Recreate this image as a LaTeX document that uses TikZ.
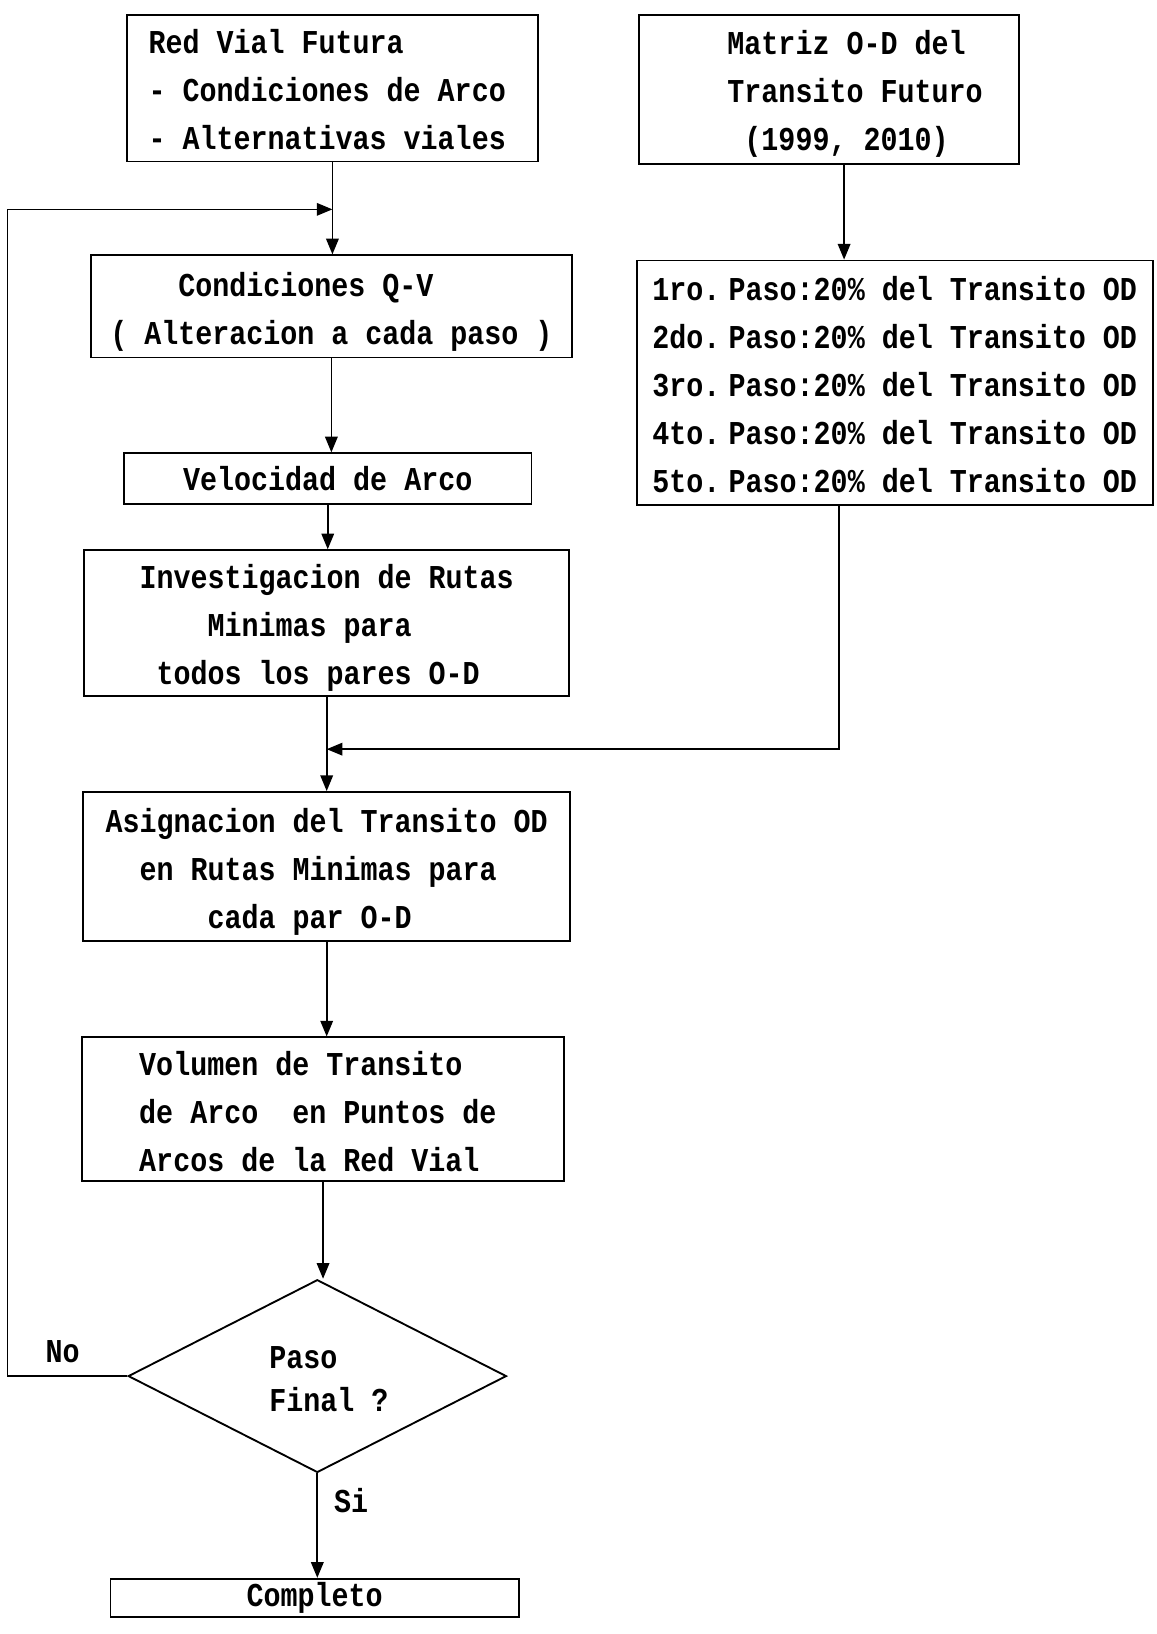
\documentclass[tikz,border=0pt]{standalone}
\usepackage{fontspec}
\newfontfamily\typ{Liberation Mono}[FakeStretch=0.85]
\usetikzlibrary{arrows.meta,shapes.geometric}
\tikzset{
  box/.style={draw, line width=1.8pt, inner sep=0pt, rectangle},
  arr/.style={line width=1.6pt, -{Triangle[length=15pt,width=12pt]}},
  every node/.style={font=\typ\bfseries\fontsize{32}{46}\selectfont},
}
\newcommand{\tl}[1]{\raisebox{-4pt}[\height][\depth]{\begin{tabular}{@{}l@{}}#1\end{tabular}}}
\newcommand{\pd}{.\hspace*{8pt}}
\begin{document}
\begin{tikzpicture}[x=1pt,y=-1pt]
\useasboundingbox (0,0) rectangle (1110,1568);

\node[box, minimum width=394pt, minimum height=141pt] (b1) at (319,84.5)
  {\hspace*{-10pt}\tl{Red Vial Futura\\- Condiciones de Arco\\- Alternativas viales}};
\node[box, minimum width=365pt, minimum height=143pt] (b2) at (795.5,85.5)
  {\hspace*{50pt}\tl{Matriz O-D del\\Transito Futuro\\~(1999, 2010)}};
\node[box, minimum width=462pt, minimum height=98pt] (b3) at (318,294)
  {\tl{~~~~Condiciones Q-V\\( Alteracion a cada paso )}};
\node[box, minimum width=391pt, minimum height=49pt] (b4) at (314.5,459.5)
  {Velocidad de Arco};
\node[box, minimum width=465pt, minimum height=140pt] (b5) at (313.5,598)
  {\tl{Investigacion de Rutas\\~~~~Minimas para\\~todos los pares O-D}};
\node[box, minimum width=495pt, minimum height=235pt] (b6) at (858.5,367.5)
  {\tl{1ro\pd Paso:20\% del Transito OD\\2do\pd Paso:20\% del Transito OD\\3ro\pd Paso:20\% del Transito OD\\4to\pd Paso:20\% del Transito OD\\5to\pd Paso:20\% del Transito OD}};
\node[box, minimum width=467pt, minimum height=143pt] (b7) at (313.5,831.5)
  {\tl{Asignacion del Transito OD\\~~en Rutas Minimas para\\~~~~~~cada par O-D}};
\node[box, minimum width=462pt, minimum height=137pt] (b8) at (310,1064.5)
  {\hspace*{-10pt}\tl{Volumen de Transito\\de Arco~~en Puntos de\\Arcos de la Red Vial}};
\node[draw, line width=1.8pt, diamond, aspect=2, inner sep=0pt,
      minimum width=363pt, minimum height=185pt] (d) at (304.5,1320.5)
  {\hspace*{22pt}\tl{Paso\\[-5pt]Final ?}};
\node[box, minimum width=392pt, minimum height=37pt] (b9) at (302,1533.5)
  {Completo};

\path (b1.south) ++(0,45) coordinate (j1);
\path (b5.south) ++(0,50) coordinate (j2);

\draw[arr] (b1.south) -- (b1.south |- b3.north);
\draw[arr] (b3.south) -- (b3.south |- b4.north);
\draw[arr] (b4.south) -- (b4.south |- b5.north);
\draw[arr] (b5.south) -- (b5.south |- b7.north);
\draw[arr] (b7.south) -- (b7.south |- b8.north);
\draw[arr] (b8.south) -- (b8.south |- d.north);
\draw[arr] (d.south) -- (d.south |- b9.north);
\draw[arr] ([xshift=14.5pt]b2.south) -- ([xshift=14.5pt]b2.south |- b6.north);
\draw[arr] ([xshift=-53.5pt]b6.south) |- (j2);
\draw[arr] (d.west) -- ++(-115,0) |- (j1);

\node (no) at (60,1297) {No};
\node (si) at (337,1440) {Si};
\end{tikzpicture}
\end{document}
